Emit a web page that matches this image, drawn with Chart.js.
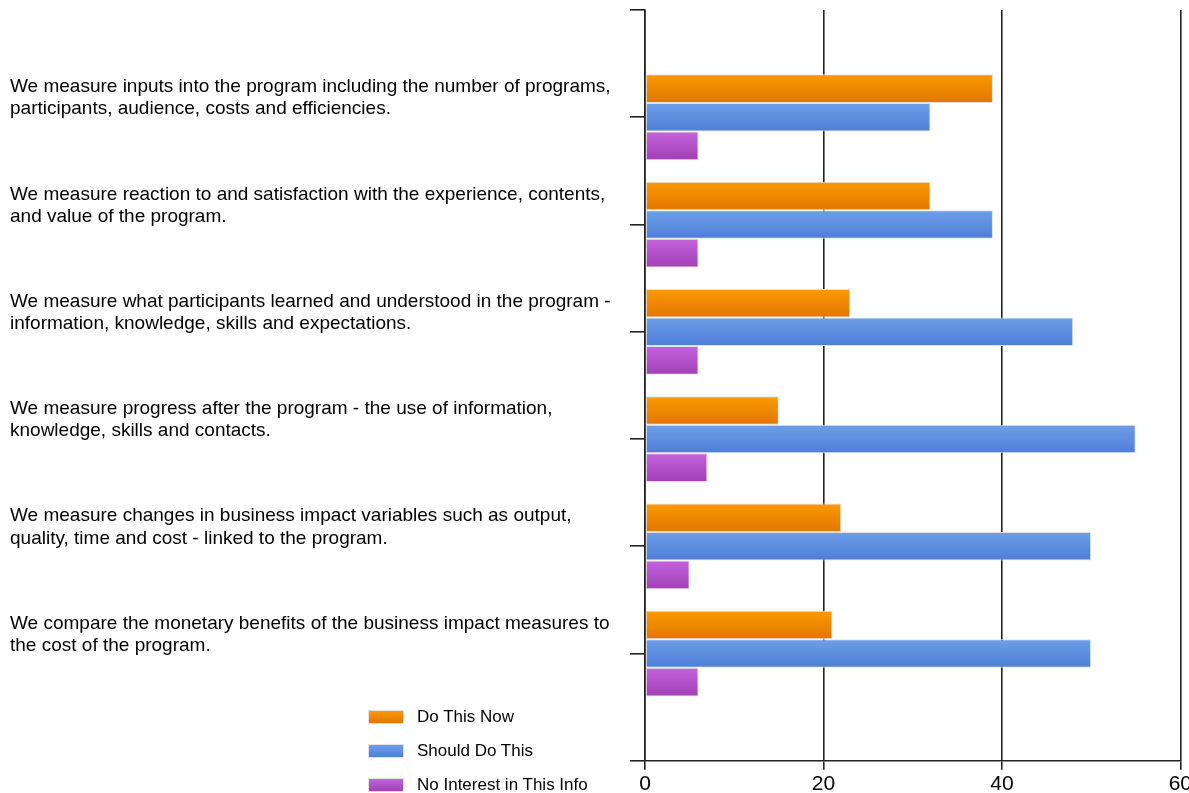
<!DOCTYPE html>
<html>
<head>
<meta charset="utf-8">
<script src="https://cdn.jsdelivr.net/npm/chart.js@4/dist/chart.umd.min.js"></script>
<style>
  html, body { margin: 0; padding: 0; background: #fff; overflow: hidden; }
  #wrap { position: relative; width: 1189px; height: 793px; overflow: hidden; }
  #bar-chart { position: absolute; left: 0; top: -4px; }
  #legend { position: absolute; left: 368px; top: 707px; font-family: "Liberation Sans", Arial, sans-serif; font-size: 17px; color: #000; }
  #legend .item { height: 34px; display: flex; align-items: flex-start; }
  #legend .box { width: 36px; height: 14px; margin-top: 3px; margin-right: 13px; box-sizing: border-box; border: 1px solid #e2e2e2; }
</style>
</head>
<body>
<div id="wrap">
  <canvas id="bar-chart" width="1194" height="803"></canvas>
  <div id="legend"></div>
</div>
<script>
// category labels, already wrapped (blank lines push the text up above the tick)
const categories = [
  ['We measure inputs into the program including the number of programs,', 'participants, audience, costs and efficiencies.', '', ''],
  ['We measure reaction to and satisfaction with the experience, contents,', 'and value of the program.', '', ''],
  ['We measure what participants learned and understood in the program -', 'information, knowledge, skills and expectations.', '', ''],
  ['We measure progress after the program - the use of information,', 'knowledge, skills and contacts.', '', ''],
  ['We measure changes in business impact variables such as output,', 'quality, time and cost - linked to the program.', '', ''],
  ['We compare the monetary benefits of the business impact measures to', 'the cost of the program.', '', '']
];

// series
const seriesNames = ['Do This Now', 'Should Do This', 'No Interest in This Info'];
const doThisNow    = [39, 32, 23, 15, 22, 21];
const shouldDoThis = [32, 39, 48, 55, 50, 50];
const noInterest   = [6, 6, 6, 7, 5, 6];

// x axis ticks
const xTicks = [0, 20, 40, 60];

// colors (mid tone, then top/bottom of the bar shading)
let orange = '#f08a00';
let blue = '#5f90e2';
let purple = '#b452cf';
const colors = [orange, blue, purple];
const shades = [['#fa9a00', '#e27600'], ['#6c9eea', '#4e7ed5'], ['#c563dc', '#a13fb5']];

// empty slot above and below the categories
const labels = [''].concat(categories, ['']);
function pad(arr) { return [null].concat(arr, [null]); }

const barData = {
  labels: labels,
  datasets: [doThisNow, shouldDoThis, noInterest].map((vals, i) => ({
    label: seriesNames[i],
    data: pad(vals),
    backgroundColor: colors[i],
    borderColor: '#e2e2e2',
    borderWidth: 1,
    borderSkipped: false,
    categoryPercentage: 0.8,
    barPercentage: 1.0
  }))
};

// vertical shading on each bar (own options object per bar, the shared one is frozen)
const barShading = {
  id: 'barShading',
  beforeDatasetsDraw(chart) {
    const ctx = chart.ctx;
    chart.data.datasets.forEach((ds, i) => {
      chart.getDatasetMeta(i).data.forEach(el => {
        if (!el || isNaN(el.y) || !el.height) return;
        const g = ctx.createLinearGradient(0, el.y - el.height / 2, 0, el.y + el.height / 2);
        g.addColorStop(0, shades[i][0]);
        g.addColorStop(1, shades[i][1]);
        el.options = Object.assign({}, el.options, { backgroundColor: g });
      });
    });
  }
};

const font = "'Liberation Sans', Arial, sans-serif";

const barChart = new Chart(document.getElementById('bar-chart'), {
  type: 'bar',
  data: barData,
  plugins: [barShading],
  options: {
    indexAxis: 'y',
    responsive: false,
    animation: false,
    layout: { padding: { left: 10, top: 6, right: 0, bottom: 0 } },
    plugins: {
      legend: { display: false },
      tooltip: { enabled: false }
    },
    scales: {
      x: {
        min: 0,
        max: 60,
        afterBuildTicks: (scale) => { scale.ticks = xTicks.map(v => ({ value: v })); },
        ticks: { color: '#000', font: { family: font, size: 21 }, padding: 2 },
        grid: { color: '#222', lineWidth: 1.6, tickLength: 9, tickColor: '#222' },
        border: { color: '#222', width: 1.6 }
      },
      y: {
        offset: false,
        afterFit: (scale) => { scale.width = 635; },
        ticks: {
          crossAlign: 'far',
          color: '#000',
          autoSkip: false,
          labelOffset: 3,
          font: { family: font, size: 19, lineHeight: 1.16 }
        },
        grid: { drawOnChartArea: false, offset: false, tickLength: 15, color: '#222', lineWidth: 1.6 },
        border: { color: '#222', width: 1.6 }
      }
    }
  }
});

// legend, stacked vertically at the bottom left
const legendEl = document.getElementById('legend');
seriesNames.forEach((name, i) => {
  const item = document.createElement('div');
  item.className = 'item';
  const box = document.createElement('span');
  box.className = 'box';
  box.style.background = 'linear-gradient(' + shades[i][0] + ',' + shades[i][1] + ')';
  const txt = document.createElement('span');
  txt.textContent = name;
  item.appendChild(box);
  item.appendChild(txt);
  legendEl.appendChild(item);
});
</script>
</body>
</html>
